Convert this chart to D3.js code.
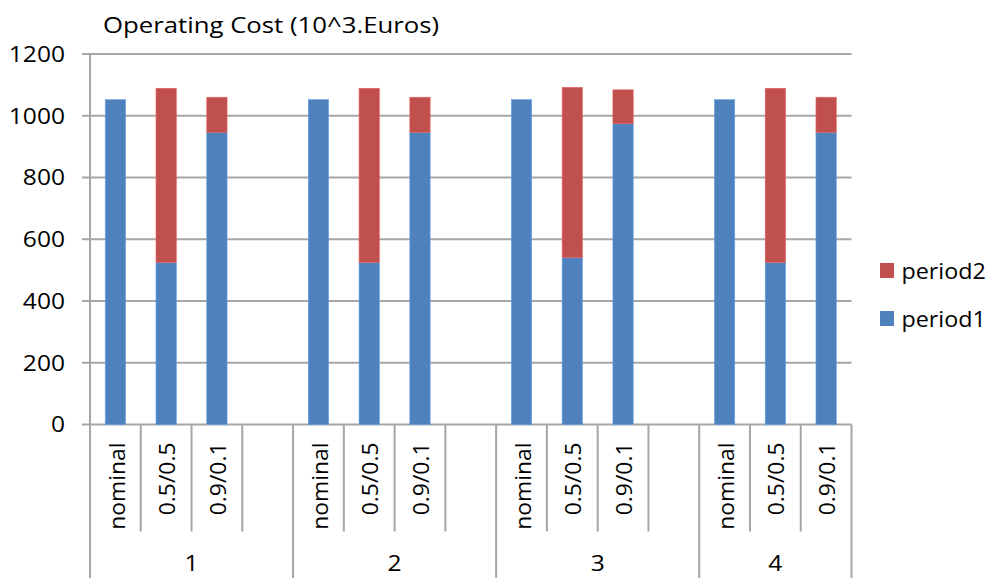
<!DOCTYPE html>
<html>
<head>
<meta charset="utf-8">
<script src="https://cdn.jsdelivr.net/npm/d3@7"></script>
<style>
  html, body { margin: 0; padding: 0; background: #fff; }
  svg { display: block; font-family: "Open Sans", Lato, sans-serif; }
</style>
</head>
<body>
<svg id="chart" width="987" height="578"></svg>
<script>
// Operating cost per case and scenario, split by period
const groups = ["1", "2", "3", "4"];
const scenarios = ["nominal", "0.5/0.5", "0.9/0.1"];
const period1 = [
  [1052, 525, 946],
  [1052, 525, 946],
  [1052, 541, 974],
  [1052, 525, 946]
];
const period2 = [
  [0, 564, 114],
  [0, 564, 114],
  [0, 551, 110],
  [0, 564, 114]
];
const yTicks = [0, 200, 400, 600, 800, 1000, 1200];
const seriesNames = ["period1", "period2"];
const seriesColors = ["#4F81BD", "#C0504D"];
const titleText = "Operating Cost (10^3.Euros)";

// Build flat slot list: scenarios of each group, with a blank slot between groups
const slots = [];
groups.forEach((g, gi) => {
  scenarios.forEach((s, si) => slots.push({ key: g + "|" + s, group: g, label: s, p1: period1[gi][si], p2: period2[gi][si] }));
  if (gi < groups.length - 1) slots.push({ key: g + "|gap", group: g, label: "", blank: true });
});

const svg = d3.select("#chart");
const plotL = 90, plotR = 851.5, plotT = 54, plotB = 424.5;
const gridColor = "#A6A6A6";
const fs = 21;
const wide = 1.17;   // horizontal widening of the label face

const x = d3.scaleBand().domain(slots.map(d => d.key)).range([plotL, plotR]).padding(0);
const y = d3.scaleLinear().domain([0, 1200]).range([plotB, plotT]);

// Horizontal gridlines with small left tick marks
svg.append("g").selectAll("line").data(yTicks).join("line")
  .attr("x1", plotL - 8).attr("x2", plotR)
  .attr("y1", d => y(d)).attr("y2", d => y(d))
  .attr("stroke", gridColor).attr("stroke-width", 2);

// Y-axis tick labels
svg.append("g").selectAll("text").data(yTicks).join("text")
  .attr("transform", d => `translate(65,${y(d)}) scale(${wide},1)`)
  .attr("text-anchor", "end").attr("dominant-baseline", "central")
  .attr("font-size", fs).attr("fill", "#000")
  .text(d => d);

// Stacked bars
const bw = x.bandwidth() * 0.4;
const barData = slots.filter(d => !d.blank);
const layers = svg.append("g");
barData.forEach(d => {
  const cx = x(d.key) + x.bandwidth() / 2;
  const stack = [[0, d.p1], [d.p1, d.p1 + d.p2]];
  stack.forEach((st, i) => {
    if (st[1] - st[0] <= 0) return;
    layers.append("rect")
      .attr("x", cx - bw / 2).attr("width", bw)
      .attr("y", y(st[1])).attr("height", y(st[0]) - y(st[1]))
      .attr("fill", seriesColors[i])
      .attr("stroke", d3.color(seriesColors[i]).brighter(0.6)).attr("stroke-width", 0.6);
  });
});

// Axis frame: left and right vertical lines reaching the bottom of the category area
svg.append("line").attr("x1", plotL).attr("x2", plotL).attr("y1", plotT).attr("y2", 578)
  .attr("stroke", gridColor).attr("stroke-width", 2);
svg.append("line").attr("x1", plotR).attr("x2", plotR).attr("y1", plotB).attr("y2", 578)
  .attr("stroke", gridColor).attr("stroke-width", 2);

// Slot separators under the axis
const slotEdges = slots.map(d => x(d.key)).slice(1);
svg.append("g").selectAll("line").data(slotEdges).join("line")
  .attr("x1", d => d).attr("x2", d => d)
  .attr("y1", plotB).attr("y2", (d, i) => slots[i].blank ? 578 : 531.5)
  .attr("stroke", gridColor).attr("stroke-width", 2);

// Scenario labels, rotated
svg.append("g").selectAll("text").data(barData).join("text")
  .attr("transform", d => `translate(${x(d.key) + x.bandwidth() / 2 + 1},442.5) rotate(-90) scale(1.09,1)`)
  .attr("text-anchor", "end").attr("dominant-baseline", "central")
  .attr("font-size", fs).attr("fill", "#000")
  .text(d => d.label);

// Group labels centred beneath their slots
groups.forEach(g => {
  const ks = slots.filter(d => d.group === g);
  const x0 = x(ks[0].key), x1 = x(ks[ks.length - 1].key) + x.bandwidth();
  svg.append("text").attr("transform", `translate(${(x0 + x1) / 2},571) scale(${wide},1)`)
    .attr("text-anchor", "middle").attr("font-size", fs).attr("fill", "#000").text(g);
});

// Title
svg.append("text").attr("transform", `translate(103,33) scale(${wide},1)`)
  .attr("font-size", 22).attr("fill", "#000").text(titleText);

// Legend (period2 above period1)
const legend = svg.append("g");
[1, 0].forEach((si, i) => {
  const ly = 263 + i * 48;
  legend.append("rect").attr("x", 880).attr("y", ly).attr("width", 14).attr("height", 15).attr("fill", seriesColors[si]);
  legend.append("text").attr("transform", `translate(901.5,${ly + 7.5}) scale(1.11,1)`)
    .attr("dominant-baseline", "central")
    .attr("font-size", fs).attr("fill", "#000").text(seriesNames[si]);
});
</script>
</body>
</html>
